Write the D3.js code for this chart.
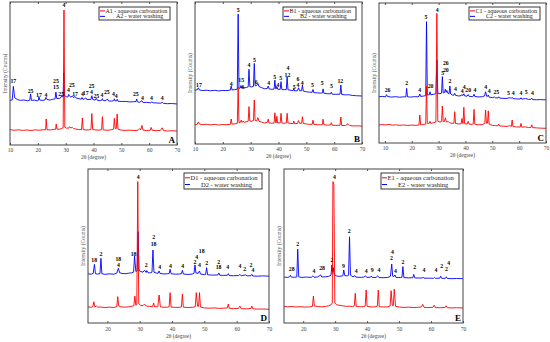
<!DOCTYPE html>
<html>
<head>
<meta charset="utf-8">
<script src="https://cdn.jsdelivr.net/npm/d3@7"></script>
<style>
body{margin:0;background:#fff}
svg{display:block}
text{font-family:"Liberation Serif","Times New Roman",serif}
</style>
</head>
<body>
<svg width="550" height="342"></svg>
<script>
// 2theta (deg), intensity in % of panel height
var A1 = [[10,10.8],[11.5,10.3],[13,10.6],[14.5,10.2],[16,10.5],[17.5,10.1],[19,10.6],[20.5,10.3],[22,10.7],[22.8,10.6],[23,18.2],[23.3,10.7],[24.5,10.5],[25.5,10.9],[26.4,11],[26.6,14.7],[26.9,11.1],[27.8,11],[28.6,11.6],[29.1,12],[29.4,94.4],[29.7,12.4],[30.3,11.8],[31.1,11.8],[31.4,12.8],[31.8,11.9],[32.4,12.3],[32.8,11.5],[33.6,11.2],[34.6,10.8],[35.7,10.7],[36,18.9],[36.3,10.8],[37.3,10.5],[38.3,10.6],[39.1,10.8],[39.4,22],[39.7,10.9],[40.8,10.5],[42,10.4],[42.9,10.7],[43.2,19.8],[43.5,10.6],[44.8,10.3],[46,10.5],[47.2,11],[47.5,18.6],[47.8,11.5],[48.2,11.5],[48.5,21.7],[48.8,11],[50,10.4],[51.5,10.2],[53,10.4],[54.5,10.1],[56,10.3],[56.6,11.5],[57,10.5],[57.4,13.7],[57.8,10.4],[59,10.1],[60.4,10.3],[60.7,12.3],[61.1,10.3],[62.5,10],[64,10.2],[64.7,12],[65.1,10.1],[66.5,9.8],[68,10],[70,9.8]];
var A2 = [[10,31.2],[10.8,31.5],[11.2,41],[11.7,33],[12.6,31.8],[13.8,31.2],[15,31.5],[16.2,30.9],[17.1,31.3],[17.4,35.7],[17.7,31.2],[18.8,31.4],[19.8,30.9],[20.2,31.3],[20.4,33.8],[20.7,31.4],[21.8,31.2],[22.6,31.6],[22.9,33.3],[23.3,31.9],[24.3,31.4],[25.3,31.9],[26.2,32.3],[26.5,37],[26.8,32.5],[27.7,32.6],[28.3,33.2],[28.6,34.6],[28.9,33.5],[29.1,34],[29.3,50.6],[29.6,34.6],[30.2,33.8],[30.8,33.6],[31.1,35.4],[31.4,34.4],[31.8,33.4],[32.4,34.3],[32.8,33.2],[33.4,33.9],[33.8,32.8],[34.8,32.4],[35.6,32],[35.9,33.2],[36.2,32],[36.8,32.2],[37.2,33],[37.6,31.8],[38.4,31.8],[39.1,32],[39.4,34.5],[39.7,31.8],[40.6,31.4],[41,32.6],[41.4,31.2],[42.4,31],[43,31.4],[43.2,32.4],[43.5,31],[44.5,31.1],[45,32.2],[45.4,30.8],[46.5,30.7],[47.3,31],[47.5,32.3],[47.8,30.8],[48.3,30.9],[48.5,32],[48.8,30.6],[50,30.4],[51.5,30.5],[53,30.1],[54.5,30.3],[55.3,30.4],[55.5,32.2],[55.8,30.2],[56.5,29.8],[57.4,31],[57.8,29.7],[59,29.8],[60.5,29.5],[61,30.2],[61.4,29.5],[62.8,29.4],[64.2,29.2],[64.7,29.9],[65.1,29.1],[66.5,28.9],[68,29],[70,28.7]];
var labelsA = [["17",11.2,45],["25",17.4,38],["17",20.4,35],["4",22.9,35],["25",26.5,44.5],["15",26.5,40.5],["25",28.4,36],["4",31,38.5],["25",32.2,42],["17",33.4,36],["4",36,36],["17",37.2,36.5],["25",39.3,41],["4",39.3,37],["25",41,34.5],["4",43,35],["25",44.8,37],["4",47.2,35.5],["4",48.2,34.5],["25",55.2,36],["4",57.6,33],["4",60.8,33],["4",64.7,33],["4",29.4,98]];

var B1 = [[10,13.5],[10.8,14],[11.2,15.5],[11.6,14],[12.8,13.6],[14,13.9],[15.5,13.5],[17,13.8],[18.5,13.4],[20,13.7],[21.5,13.6],[22.7,13.9],[23,17.6],[23.3,14],[24.3,14.2],[25.2,14.5],[25.5,40],[25.8,15],[26.3,15.2],[26.6,16.8],[26.9,15.2],[27.3,16.2],[27.6,15.3],[28.5,15.6],[29.1,16],[29.4,26.3],[29.7,16.2],[30.4,16],[31,16.4],[31.3,31],[31.6,16.5],[32.2,16.4],[32.6,18.5],[33,16],[34,15.4],[35,14.8],[36,15.2],[36.3,17.5],[36.6,14.8],[37.6,14.6],[38.4,14.8],[38.7,22],[39,15],[39.2,15],[39.4,19.5],[39.7,14.8],[40.6,14.8],[40.9,21.6],[41.2,14.8],[42,14.6],[42.8,14.8],[43.1,21.6],[43.4,14.8],[44.5,14.5],[45.3,14.4],[45.5,16.2],[45.8,14.3],[46.8,14.4],[47.2,16.5],[47.6,14.5],[48.3,14.6],[48.6,19.2],[48.9,14.4],[50,14.1],[51.2,13.8],[52.1,13.9],[52.4,16.8],[52.7,13.8],[54,13.6],[55.2,13.5],[55.8,13.7],[56,17.5],[56.3,13.6],[57.5,13.3],[58.7,13.4],[59,15],[59.3,13.2],[60.6,13.1],[62.1,13.2],[62.4,19],[62.7,13.1],[64,13],[65,14.2],[65.6,13],[67,12.7],[68.5,12.8],[70,12.6]];
var B2 = [[10,37.8],[10.8,38.2],[11.2,39.5],[11.6,38],[12.8,37.6],[14,37.9],[15.5,37.5],[17,37.8],[18.5,37.4],[20,37.7],[21.5,37.6],[22.7,38],[23,40.8],[23.3,38.1],[24.3,38.3],[25.2,38.6],[25.5,91.5],[25.8,39.2],[26.3,39.4],[26.5,41.2],[26.8,39.4],[27.3,40.2],[27.6,39.5],[28.5,39.8],[29.1,40.2],[29.4,52.6],[29.7,40.4],[30.4,40.2],[31,40.6],[31.3,56.8],[31.6,41],[32.2,41.2],[32.6,42.7],[33,40.5],[34,39.6],[35,38.9],[36,39.2],[36.3,40.8],[36.6,38.8],[37.6,38.5],[38.4,38.7],[38.7,45],[39,38.8],[39.2,38.9],[39.4,40.6],[39.7,38.6],[40.6,38.5],[40.9,43.9],[41.2,38.4],[42,38.2],[42.8,38.4],[43.1,47.4],[43.4,38.2],[44.5,37.8],[45.3,37.6],[45.5,39],[45.8,37.4],[46.8,37.5],[47.2,39.6],[47.6,37.5],[48.3,37.5],[48.6,41.5],[48.9,37.3],[50,36.8],[51.2,36.5],[52.1,36.4],[52.4,38.4],[52.7,36.2],[54,36],[55.2,35.8],[55.8,36],[56,38.8],[56.3,35.8],[57.5,35.4],[58.7,35.3],[59,36.5],[59.3,35.1],[60.6,35],[62.1,35.1],[62.4,41.5],[62.7,34.9],[64,34.6],[65.2,34.7],[66.5,34.2],[68,34],[70,33.8]];
var labelsB = [["17",11.4,41.5],["4",23,42],["15",26.6,45],["6",27.2,40.4],["5",25.5,94.4],["4",29.4,55.6],["5",31.4,59.2],["6",32,43.9],["4",36.5,43.2],["5",38.6,47.4],["4",39.8,41.5],["5",40.8,46.7],["12",43.2,48.6],["4",43.4,53.4],["5",45.6,39.9],["6",47,45.5],["4",47,41.5],["4",48.5,43.2],["5",52.2,41.5],["5",55.7,43.2],["5",59,40.8],["12",62.2,44.4]];

var C1 = [[7.8,12.8],[9,13.2],[10.3,12.9],[11.5,13.3],[12.8,12.7],[14,13],[15.5,12.6],[17,12.9],[18.5,12.5],[20,12.8],[21.5,12.6],[22.7,12.9],[23,20],[23.3,13],[24.3,13.2],[25.2,13.5],[25.5,40.7],[25.8,14],[26.5,14],[26.8,15.5],[27.1,14],[28.2,14.5],[29,15],[29.35,92.6],[29.7,15.5],[30.5,15],[31.1,15.4],[31.4,26.4],[31.7,15.3],[32.2,15.4],[32.5,18],[32.9,15],[33.6,15.4],[34,14.5],[35,14],[35.7,14.2],[36,22.4],[36.3,14],[37.5,13.6],[38.4,13.8],[38.7,17.5],[39,13.8],[39.1,14],[39.4,25.5],[39.7,13.8],[40.6,13.5],[41,15.5],[41.4,13.4],[42.5,13.3],[42.9,13.6],[43.2,24],[43.5,13.4],[45,13],[46.3,13.2],[47.2,14],[47.5,23.6],[47.8,14.2],[48.2,14.2],[48.5,23],[48.8,13.5],[50,12.6],[51.2,12.4],[52.1,12.3],[52.4,13.5],[52.7,12.2],[54,12],[55.5,11.8],[56.4,12.4],[57.1,11.9],[57.4,16.4],[57.7,11.7],[59,11.5],[60.4,11.4],[60.7,14],[61,11.3],[62.4,11.5],[63.5,11],[64.4,11.2],[64.7,13],[65,11],[66.5,10.8],[68,10.6],[70,10.5]];
var C2 = [[7.8,33],[9,33.3],[10.3,33],[10.6,34.5],[11,33.2],[12.5,32.8],[14,33.1],[15.5,32.7],[17,33],[17.8,32.9],[18.1,39],[18.4,33],[19.5,32.8],[21,33.1],[22.3,33],[22.7,33.3],[23,35],[23.3,33.3],[24.3,33.5],[25.2,33.8],[25.5,86.7],[25.8,34.3],[26.5,34.4],[26.8,36.6],[27.1,34.4],[28.2,34.8],[29,35.2],[29.35,59.3],[29.7,35.6],[30.5,35.2],[31.1,35.6],[31.4,47.4],[31.7,35.8],[32.2,36],[32.5,38.5],[32.8,36.2],[33.1,37.5],[33.5,35.4],[33.9,35.2],[34.2,40.7],[34.5,35],[35.2,34.2],[35.7,34.2],[36,35.5],[36.3,34],[37.5,33.6],[38.4,33.8],[38.7,34.6],[39,33.8],[39.4,35.2],[39.7,33.7],[40.6,33.4],[41,34.6],[41.4,33.3],[42.5,33.2],[42.9,33.4],[43.2,34.8],[43.5,33.2],[45,32.9],[46.3,33.1],[47.1,33.6],[47.5,36.6],[47.9,33.4],[48.2,33.3],[48.5,34.3],[48.8,32.8],[50,32.4],[50.8,32.8],[51.1,32.3],[52.1,32.2],[52.4,33],[52.7,32.1],[54,31.9],[55.5,31.8],[56.4,32.4],[57.1,31.9],[57.4,32.6],[57.7,31.7],[59,31.5],[60.4,31.4],[60.7,32.3],[61,31.3],[62.4,31.8],[63.5,31.1],[64.4,31.2],[64.7,32],[65,31],[66.5,30.9],[68,31],[70,30.8]];
var labelsC = [["26",11,37.9],["2",18.1,42.6],["4",23,37.9],["5",25.3,89.8],["20",27,40.7],["4",29.5,95],["5",31.5,49.8],["26",32.7,56.9],["20",32.7,52.1],["2",34.2,44.3],["4",36.3,38.4],["4",38.8,37.4],["4",39.5,39.8],["20",41,37.9],["4",43.5,37.9],["4",47.5,39.8],["4",48.8,37.4],["2",51,36.7],["5",52,36.7],["5",56,36],["4",57.8,36],["4",60.7,36],["5",62.6,36.7],["4",65,36]];

var D1 = [[14,10.5],[15,10.2],[15.5,10.6],[15.8,13.8],[16.1,10.5],[16.6,11],[17,10.3],[18,10.4],[19.2,10],[20.5,10.3],[22,10.1],[22.9,10.6],[23.2,17.1],[23.5,11],[24,10.6],[25.2,10.3],[26.5,10.5],[27.5,10.8],[28.2,11.2],[28.5,17.5],[28.8,11.5],[29.1,12],[29.4,91.8],[29.7,12.5],[30.3,11.5],[31,11.2],[31.5,12.3],[32,11],[33,10.8],[34,10.6],[34.3,13],[34.6,10.5],[35.6,10.6],[36,18.2],[36.4,10.5],[37.5,10.2],[38.5,10.3],[39.1,10.5],[39.4,19.7],[39.7,10.4],[41,10.1],[42.3,10.2],[42.9,10.4],[43.2,18.8],[43.5,10.3],[45,10],[46.3,10.2],[47.2,10.6],[47.5,19.7],[47.9,10.8],[48.2,10.8],[48.5,19.7],[48.8,10.4],[50,9.8],[51.5,9.6],[53,9.8],[54.5,9.5],[56,9.6],[57.1,9.8],[57.4,12.3],[57.7,9.6],[59,9.3],[60.5,9.4],[61,11],[61.4,9.3],[63,9.2],[64.4,9.4],[64.7,11],[65,9.2],[66.5,9],[68,9.1],[70,8.9]];
var D2 = [[14,32],[15,31.7],[15.6,32.2],[16,38.1],[16.3,32],[17,31.8],[17.7,32],[18,42],[18.3,32],[19.2,31.6],[20.5,31.9],[22,31.7],[22.9,32.4],[23.4,35.5],[23.8,32.6],[24.5,32.2],[25.5,32],[26.5,32.3],[27.5,32.6],[28.1,33],[28.4,43.5],[28.8,33.5],[29.2,33.8],[29.5,59.3],[29.8,34],[30.4,33.4],[31,33],[31.5,34.3],[32,32.8],[32.2,34],[32.6,32.6],[33.4,32.6],[33.8,33],[34.1,47.4],[34.4,33],[35.2,32.4],[35.7,32.3],[36,33.8],[36.3,32.2],[37.5,31.8],[38.5,32],[39.1,32.1],[39.4,34.9],[39.7,32],[41,31.7],[42.3,31.8],[42.9,32],[43.2,34.2],[43.5,31.8],[45,31.5],[46.3,31.8],[46.8,32.3],[47.1,37.7],[47.4,32.4],[48.1,32.3],[48.5,33.8],[48.8,31.8],[50,31.4],[50.4,31.6],[50.7,35.9],[51,31.3],[52.5,31.1],[54.2,31.2],[54.5,32.5],[54.8,31],[56,30.9],[57.1,31],[57.4,32],[57.7,30.8],[59,30.7],[60.6,30.8],[61,31.6],[61.4,30.6],[62.8,31.3],[63.2,30.6],[64.4,30.7],[64.7,31.6],[65,30.5],[66.5,30.4],[68,30.6],[70,30.4]];
var labelsD = [["18",15.9,40.9],["2",18,44.8],["18",23.4,41.4],["4",23.4,37.7],["18",28.1,44.8],["4",29.5,95],["2",34.3,56],["18",34.3,51.3],["2",32,37.7],["4",36.2,36.6],["4",39.5,37.2],["4",43.3,37],["4",47.6,42.7],["2",47.1,39.8],["18",49.2,46.8],["4",48.5,37.7],["2",50.7,38.8],["2",54.4,39.8],["18",54.4,36.2],["4",57.2,36.2],["4",61,37],["2",62.5,34.9],["2",64.4,37.7],["4",65,34.4]];

var E1 = [[14,10.8],[15.2,10.5],[16.5,10.7],[17.8,10.4],[19,10.6],[20.5,10.3],[22,10.5],[22.9,10.8],[23.2,17.5],[23.5,11],[24.5,10.7],[25.8,10.5],[27,10.8],[28,11.2],[28.8,12],[29.1,13],[29.3,91.8],[29.6,90],[29.9,13],[30.5,11.8],[31.5,11.4],[32.5,11.1],[33.5,10.8],[34.5,10.9],[35.5,10.6],[36,11.2],[36.3,19.3],[36.6,10.8],[37.8,10.5],[39,10.7],[39.4,11],[39.7,21.4],[40,10.8],[41.3,10.4],[42.5,10.5],[43.2,11],[43.5,21.4],[43.8,10.6],[45,10.4],[46.5,10.5],[47.2,11],[47.5,21],[47.9,11.3],[48.2,11.3],[48.5,22],[48.9,10.8],[50,10.4],[51.5,10.1],[53,10.3],[54.5,10],[56,10.2],[57,10.4],[57.4,12.1],[57.8,10.2],[59,10],[60.6,10.2],[61,11.5],[61.4,10],[63,9.9],[64.4,10.1],[64.7,11.2],[65.1,9.9],[66.5,9.8],[68,9.9],[70,9.8]];
var E2 = [[14,29.8],[15.2,29.6],[15.8,30.1],[16,31],[16.3,29.8],[17.3,29.7],[18,29.9],[18.3,47.9],[18.6,30],[19.5,29.6],[21,29.8],[22.5,29.6],[23,30.6],[23.4,29.7],[24.5,29.9],[25.5,31.2],[25.8,29.9],[27,30],[28,30.3],[28.7,31],[29,37.7],[29.2,33],[29.4,36],[29.7,31.5],[30.5,30.5],[31.5,30.3],[32.4,30.6],[32.7,34.4],[33,30.8],[33.8,30.6],[34.2,31],[34.5,56],[34.8,31],[35.6,30],[36.2,30.7],[36.5,29.8],[37.8,29.6],[39,29.8],[39.5,30.6],[39.9,29.6],[41,29.7],[41.3,30.5],[41.6,29.6],[42.8,29.6],[43.3,30.6],[43.7,29.5],[45,29.4],[46.5,29.6],[47.3,30.3],[47.7,38.3],[48,30.4],[48.4,30.2],[48.7,31.2],[49,29.6],[50.5,29.5],[50.9,29.7],[51.2,36.6],[51.5,29.5],[53,29.3],[54.3,29.4],[54.6,31.5],[54.9,29.3],[56.2,29.2],[57.2,29.2],[57.5,29.8],[57.8,29.1],[59.5,29.1],[60.8,29],[61.1,29.5],[61.4,29],[62.7,29.1],[63,30.4],[63.3,29],[64.5,29],[64.8,30],[65.1,28.9],[66.5,28.8],[68,28.9],[70,28.8]];
var labelsE = [["28",16.4,34.9],["2",18.3,51.3],["4",23.4,34],["28",25.9,35.5],["2",29,40.9],["4",29.8,95],["9",32.6,37],["2",34.4,59.7],["4",36.6,34],["4",39.7,34],["9",41.6,34.4],["4",43.7,34.4],["4",47.9,46.3],["2",47.6,42],["4",48.9,34],["2",51.2,39.8],["2",54.9,36.2],["4",57.8,34.4],["4",61.5,34.4],["2",63.3,37],["2",64.8,34.9],["4",65.5,38.8]];

var xTicks = [10,20,30,40,50,60,70];

var panels = [
	{id:"A", red:A1, blue:A2, labels:labelsA, dom:[10,70], l:10, r:177, t:2, b:145, lw:71, lh:13, lr:7, lt:5, fs:6, tk:3, tt:13.5},
	{id:"B", red:B1, blue:B2, labels:labelsB, dom:[10,70], l:195, r:362, t:2, b:144, lw:73, lh:13, lr:6, lt:5, fs:6, tk:3, tt:13.5},
	{id:"C", red:C1, blue:C2, labels:labelsC, dom:[7.8,70], l:379, r:546, t:3, b:143, lw:71, lh:13, lr:6, lt:4, fs:6, tk:3, tt:13.5},
	{id:"D", red:D1, blue:D2, labels:labelsD, dom:[14,70], l:88, r:269, t:169, b:323, lw:78, lh:16, lr:7, lt:4, fs:6.5, tk:4, tt:14.5},
	{id:"E", red:E1, blue:E2, labels:labelsE, dom:[14,70], l:284, r:463, t:169, b:323, lw:78, lh:16, lr:4, lt:4, fs:6.5, tk:4, tt:14.5}
];

var svg = d3.select("svg");

panels.forEach(function(p){
	var x = d3.scaleLinear().domain(p.dom).range([p.l, p.r]);
	var y = d3.scaleLinear().domain([0,100]).range([p.b, p.t]);
	var g = svg.append("g");

	g.append("clipPath").attr("id", "clip" + p.id)
		.append("rect").attr("x", p.l).attr("y", p.t).attr("width", p.r - p.l).attr("height", p.b - p.t);

	var line = d3.line().x(d => x(d[0])).y(d => y(d[1]));

	g.append("path").datum(p.blue)
		.attr("d", line).attr("fill", "none").attr("stroke", "#0000ff").attr("stroke-width", 0.9)
		.attr("clip-path", "url(#clip" + p.id + ")");
	g.append("path").datum(p.red)
		.attr("d", line).attr("fill", "none").attr("stroke", "#ff0000").attr("stroke-width", 0.9)
		.attr("clip-path", "url(#clip" + p.id + ")");

	// axes, ticks pointing inwards
	var ticks = xTicks.filter(t => t >= p.dom[0] && t <= p.dom[1]);
	g.append("g").attr("transform", "translate(0," + p.b + ")")
		.call(d3.axisBottom(x).tickValues(ticks).tickSize(-2).tickPadding(p.tk))
		.call(ax => ax.select(".domain").remove())
		.call(ax => ax.selectAll("line").attr("stroke", "#555"))
		.call(ax => ax.selectAll("text").attr("font-size", 5.5).attr("fill", "#444").attr("font-family", "Liberation Serif"));
	g.append("g").attr("transform", "translate(0," + p.t + ")")
		.call(d3.axisTop(x).tickValues(ticks).tickSize(-2).tickFormat(""))
		.call(ax => ax.select(".domain").remove())
		.call(ax => ax.selectAll("line").attr("stroke", "#555"));

	g.append("rect")
		.attr("x", p.l).attr("y", p.t).attr("width", p.r - p.l).attr("height", p.b - p.t)
		.attr("fill", "none").attr("stroke", "#444").attr("stroke-width", 1);

	g.append("text")
		.attr("x", (p.l + p.r) / 2).attr("y", p.b + p.tt)
		.attr("text-anchor", "middle").attr("font-size", 5.5).attr("fill", "#444")
		.text("2θ (degree)");

	g.append("text")
		.attr("transform", "translate(" + (p.l - 5) + "," + ((p.t + p.b) / 2) + ") rotate(-90)")
		.attr("text-anchor", "middle").attr("dominant-baseline", "central")
		.attr("font-size", 5.5).attr("fill", "#444")
		.text("Intensity (Counts)");

	g.append("text")
		.attr("x", p.r - 2).attr("y", p.b - 2)
		.attr("text-anchor", "end").attr("font-size", 9).attr("font-weight", "bold")
		.text(p.id);

	// peak labels
	g.selectAll(".pk").data(p.labels).enter().append("text")
		.attr("x", d => x(d[1])).attr("y", d => y(d[2]))
		.attr("text-anchor", "middle").attr("dominant-baseline", "central")
		.attr("font-size", 5.8).attr("font-weight", "bold")
		.text(d => d[0]);

	// legend
	var lx = p.r - p.lr - p.lw, ly = p.t + p.lt;
	var lg = g.append("g");
	lg.append("rect").attr("x", lx).attr("y", ly).attr("width", p.lw).attr("height", p.lh)
		.attr("fill", "#fff").attr("stroke", "#222").attr("stroke-width", 0.9);
	var rows = [
		{c:"#ff0000", t:p.id + "1 - aqueous carbonation", dx:6.5, cy:ly + p.lh * 0.3},
		{c:"#0000ff", t:p.id + "2 - water washing", dx:17, cy:ly + p.lh * 0.72}
	];
	rows.forEach(function(r){
		lg.append("line").attr("x1", lx + 1).attr("x2", lx + 6).attr("y1", r.cy).attr("y2", r.cy)
			.attr("stroke", r.c).attr("stroke-width", 1);
		lg.append("text").attr("x", lx + r.dx).attr("y", r.cy)
			.attr("dominant-baseline", "central").attr("font-size", p.fs).attr("fill", "#222")
			.text(r.t);
	});
});
</script>
</body>
</html>
